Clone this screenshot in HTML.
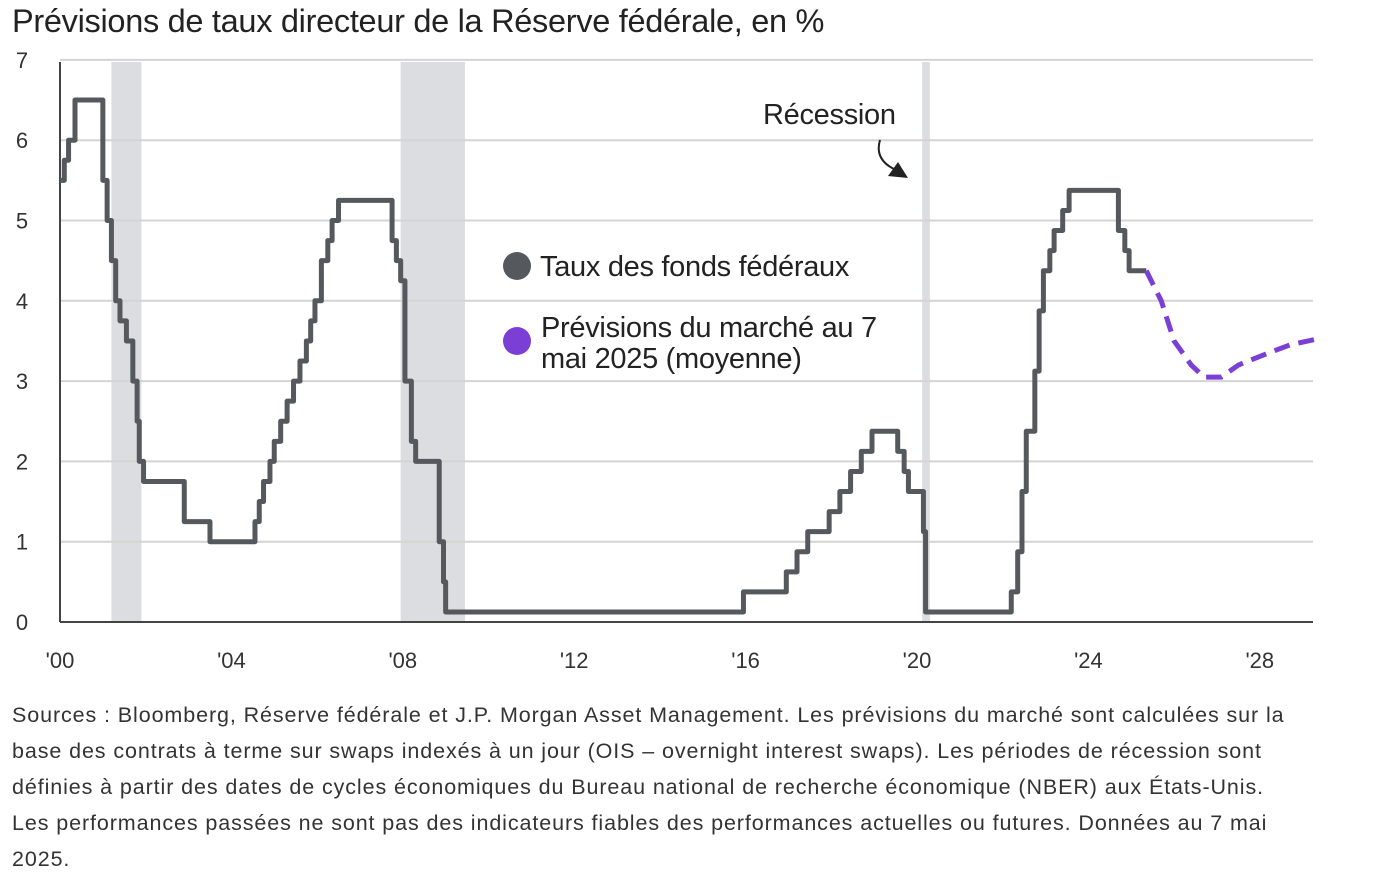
<!DOCTYPE html>
<html><head><meta charset="utf-8"><style>
body{margin:0;background:#fff;width:1374px;height:890px;overflow:hidden;font-family:"Liberation Sans",sans-serif;}
#title{position:absolute;left:12px;top:3px;font-size:32.5px;color:#222;letter-spacing:-0.3px;}
#foot{position:absolute;left:12px;top:697px;width:1290px;font-size:21.5px;letter-spacing:0.9px;line-height:36px;color:#333;}
svg{position:absolute;left:0;top:0;}
</style></head><body>
<div id="title">Prévisions de taux directeur de la Réserve fédérale, en %</div>
<svg id="chart" width="1374" height="690"></svg>
<div id="foot">Sources : Bloomberg, Réserve fédérale et J.P. Morgan Asset Management. Les prévisions du marché sont calculées sur la base des contrats à terme sur swaps indexés à un jour (OIS – overnight interest swaps). Les périodes de récession sont définies à partir des dates de cycles économiques du Bureau national de recherche économique (NBER) aux États-Unis. Les performances passées ne sont pas des indicateurs fiables des performances actuelles ou futures. Données au 7 mai 2025.</div>
<script>
const yTicks=[0,1,2,3,4,5,6,7];
const xTickYears=[2000,2004,2008,2012,2016,2020,2024,2028];
const xTickLabels=["'00","'04","'08","'12","'16","'20","'24","'28"];
const recessionStarts=[2001.2,2007.95,2020.12];
const recessionEnds=[2001.9,2009.45,2020.3];
const fedYears=[
2000.0,2000.1,2000.2,2000.35,2000.95,
2001.0,2001.1,2001.2,2001.3,2001.4,2001.55,2001.7,2001.8,2001.85,2001.95,
2002.9,2003.5,2004.45,2004.55,2004.65,2004.75,2004.9,2005.0,2005.15,
2005.3,2005.45,2005.6,2005.75,2005.85,2005.95,2006.1,2006.25,2006.35,2006.5,
2007.7,2007.75,2007.85,2007.95,2008.05,2008.2,2008.3,2008.8,2008.85,2008.95,2009.0,
2015.95,2016.95,2017.2,2017.45,2017.95,2018.2,2018.45,2018.7,2018.95,
2019.55,2019.7,2019.8,2020.15,2020.2,
2022.2,2022.35,2022.45,2022.55,2022.75,2022.85,2022.95,2023.1,2023.2,2023.4,2023.55,
2024.7,2024.85,2024.95,2025.35];
const fedRates=[
5.5,5.75,6.0,6.5,6.5,
5.5,5.0,4.5,4.0,3.75,3.5,3.0,2.5,2.0,1.75,
1.25,1.0,1.0,1.25,1.5,1.75,2.0,2.25,2.5,
2.75,3.0,3.25,3.5,3.75,4.0,4.5,4.75,5.0,5.25,
5.25,4.75,4.5,4.25,3.0,2.25,2.0,2.0,1.0,0.5,0.125,
0.375,0.625,0.875,1.125,1.375,1.625,1.875,2.125,2.375,
2.125,1.875,1.625,1.125,0.125,
0.375,0.875,1.625,2.375,3.125,3.875,4.375,4.625,4.875,5.125,5.375,
4.875,4.625,4.375,4.375];
const fcYears=[2025.35,2025.7,2026.0,2026.4,2026.7,2027.1,2027.5,2028.2,2028.7,2029.3];
const fcRates=[4.375,4.0,3.5,3.2,3.05,3.05,3.2,3.35,3.45,3.52];
const X=y=>60+(y-2000)*42.85, Y=v=>622-v*80.3;
const svg=document.getElementById('chart'),NS='http://www.w3.org/2000/svg';
function mk(t,a,p){const e=document.createElementNS(NS,t);for(const k in a)e.setAttribute(k,a[k]);(p||svg).appendChild(e);return e;}
recessionStarts.forEach((s,i)=>{const r=mk('rect',{x:X(s),y:62,width:X(recessionEnds[i])-X(s),height:560,fill:'#dcdde0'});

});
yTicks.forEach(v=>{const l=mk('line',{x1:60,x2:1313,y1:Y(v),y2:Y(v),stroke:v==0?'#444':'#d4d4d4','stroke-width':2});


const t=mk('text',{x:22,y:Y(v)+8,'font-size':22,fill:'#333','text-anchor':'middle'});t.textContent=v;

});
mk('line',{x1:60,x2:60,y1:62,y2:622,stroke:'#444','stroke-width':2});
xTickYears.forEach((y,i)=>{const t=mk('text',{x:X(y),y:668,'font-size':22,fill:'#333','text-anchor':'middle'});t.textContent=xTickLabels[i];

});
let pts=[];fedYears.forEach((y,i)=>{if(i>0)pts.push(X(y)+','+Y(fedRates[i-1]));pts.push(X(y)+','+Y(fedRates[i]));});
const fl=mk('polyline',{points:pts.join(' '),fill:'none',stroke:'#55595d','stroke-width':5,'stroke-linejoin':'round'});


const fc=mk('polyline',{points:fcYears.map((y,i)=>X(y)+','+Y(fcRates[i])).join(' '),fill:'none',stroke:'#7b3fd6','stroke-width':5,'stroke-dasharray':'16 9'});


const c1=mk('circle',{cx:517,cy:266,r:14,fill:'#55595d'});


const c2=mk('circle',{cx:517,cy:341,r:14,fill:'#7b3fd6'});


function txt(s,x,y,n){const t=mk('text',{x:x,y:y,'font-size':29,fill:'#222','letter-spacing':'-0.3'});t.textContent=s;

}
txt('Taux des fonds fédéraux',540,276,'legend-label-fed');
txt('Prévisions du marché au 7',541,337,'legend-label-forecast');
txt('mai 2025 (moyenne)',541,368,'legend-label-forecast-2');
txt('Récession',763,124,'recession-label');
mk('path',{d:'M880,140 Q874,160 896,170',fill:'none',stroke:'#222','stroke-width':2});
mk('path',{d:'M908,178 L888,176 L898,162 Z',fill:'#222'});
</script>
</body></html>
